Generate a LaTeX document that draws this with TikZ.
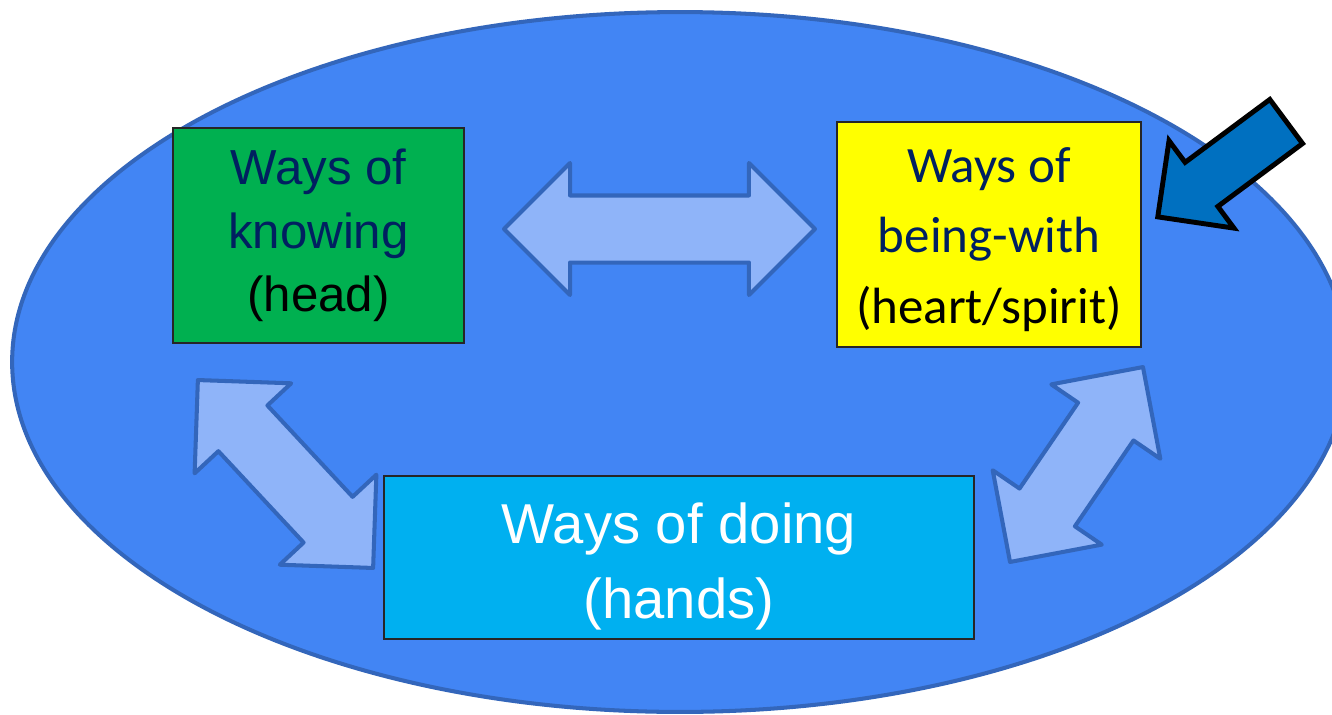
\documentclass[tikz,border=0pt]{standalone}
\usepackage{fontspec}
\setmainfont{Liberation Sans}
\newfontfamily\calibri{Carlito}
\usetikzlibrary{shapes.arrows}
\definecolor{ovalblue}{HTML}{4285F4}
\definecolor{ovalline}{HTML}{3366BB}
\definecolor{paleblue}{HTML}{8FB4F9}
\definecolor{navy}{HTML}{002060}
\definecolor{pointblue}{HTML}{0070C0}
\definecolor{knowgreen}{HTML}{00B050}
\definecolor{beingyellow}{RGB}{255,255,0}
\definecolor{doingcyan}{HTML}{00B0F0}
\tikzset{
  box/.style={
    draw=black!85,
    line width=0.8pt,
    inner sep=0pt
  },
  boxtext/.style={
    align=center,
    inner sep=0pt
  },
  twoway/.style={
    double arrow,
    draw=ovalline,
    fill=paleblue,
    line width=2.3pt,
    line join=round,
    inner xsep=0pt,
    inner ysep=0.63cm,
    double arrow head extend=0.65cm
  },
  pointer/.style={
    single arrow,
    draw=black,
    fill=pointblue,
    line width=2.8pt,
    inner xsep=0pt,
    inner ysep=0.5cm,
    single arrow head extend=0.54cm,
    minimum height=3.2cm
  }
}
\begin{document}
\begin{tikzpicture}[x=0.02cm,y=-0.02cm]
    \useasboundingbox (0,0) rectangle (1332,714);
    \draw[fill=ovalblue,draw=ovalline,line width=2.3pt] (680,362) ellipse [x radius=13.36cm, y radius=7.0cm];
    % the three ways
    \node[box,fill=knowgreen,minimum width=5.82cm,minimum height=4.3cm,
          label={[boxtext,font=\fontsize{28}{36}\selectfont]center:\textcolor{navy}{Ways of}\\\textcolor{navy}{knowing}\\(head)}]
          (know) at (318.5,235.5) {};
    \node[box,fill=beingyellow,minimum width=6.08cm,minimum height=4.5cm,
          label={[boxtext,font=\calibri\fontsize{29}{40}\selectfont,yshift=-0.1cm]center:\textcolor{navy}{Ways of}\\\textcolor{navy}{being-with}\\(heart/spirit)}]
          (being) at (989,234.5) {};
    \node[box,fill=doingcyan,minimum width=11.8cm,minimum height=3.26cm,
          label={[boxtext,font=\fontsize{32}{43}\selectfont,text=white,yshift=-0.18cm]center:Ways of doing\\(hands)}]
          (doing) at (679,557.5) {};
    % arrows between them
    \node[twoway,minimum height=6.22cm] (know-being) at (659.5,229) {};
    \node[twoway,minimum height=5.14cm,rotate=-47] (know-doing) at (285.5,474) {};
    \node[twoway,minimum height=4.72cm,rotate=55.7] (being-doing) at (1076.5,464.5) {};
    \node[pointer,rotate=216.6] (focus) at (1233,161) {};
\end{tikzpicture}
\end{document}
